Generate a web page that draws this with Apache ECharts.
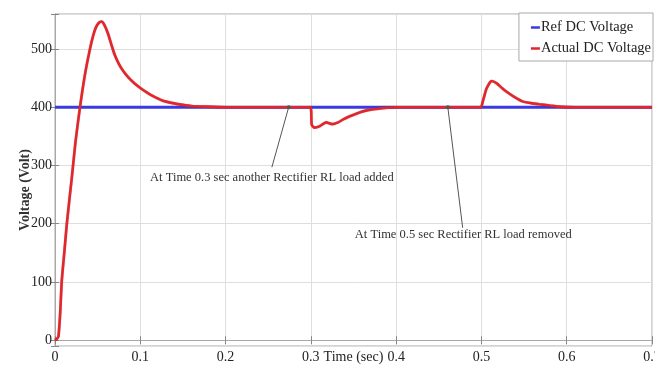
<!DOCTYPE html>
<html>
<head>
<meta charset="utf-8">
<script src="https://cdn.jsdelivr.net/npm/echarts@6/dist/echarts.min.js"></script>
<style>
  html, body { margin: 0; padding: 0; background: #fff; }
  #chart { width: 655px; height: 365px; }
</style>
</head>
<body>
<div id="chart"></div>
<script>
// DC link voltage response: reference vs. measured
const refVoltage = [[0, 400], [0.7, 400]];

const actualVoltage = [
  [0, 0], [0.002, 2], [0.004, 6], [0.006, 45], [0.008, 103], [0.011, 152],
  [0.014, 202], [0.0195, 276], [0.024, 340], [0.0293, 400], [0.035, 455],
  [0.041, 500], [0.045, 524], [0.048, 537], [0.0515, 545], [0.0545, 547],
  [0.058, 541], [0.062, 527], [0.066, 508], [0.070, 490], [0.075, 474],
  [0.080, 462], [0.086, 451], [0.093, 441], [0.100, 433], [0.108, 425],
  [0.115, 419], [0.125, 412], [0.138, 407], [0.150, 404], [0.160, 402],
  [0.175, 401], [0.2, 400], [0.25, 400], [0.2995, 400], [0.301, 370],
  [0.304, 365], [0.310, 367], [0.318, 374], [0.325, 371], [0.332, 374],
  [0.338, 379], [0.345, 384], [0.357, 391], [0.367, 395], [0.377, 397],
  [0.39, 399], [0.4, 400], [0.45, 400], [0.499, 400], [0.502, 412],
  [0.506, 432], [0.512, 445], [0.518, 441], [0.524, 433], [0.530, 426],
  [0.538, 418], [0.548, 410], [0.558, 407], [0.568, 405], [0.58, 403],
  [0.59, 401], [0.61, 400], [0.7, 400]
];

// Event annotations: marker point on the trace, leader end, text anchor
const noteText = [
  'At Time 0.3 sec another Rectifier RL load added',
  'At Time 0.5 sec Rectifier RL load removed'
];
const notePoint = [[0.274, 400], [0.4606, 400]];
const noteLeaderEnd = [[0.2543, 297], [0.478, 193]];
const noteAnchor = [[0.2543, 279], [0.4787, 181]];

const xTicks = [0, 0.1, 0.2, 0.3, 0.4, 0.5, 0.6, 0.7];
const yTicks = [0, 100, 200, 300, 400, 500];

const serif = '"Liberation Serif", "DejaVu Serif", serif';
const gridColor = '#dedede';
const frameColor = '#a8a8a8';

const isXTick = v => xTicks.some(t => Math.abs(t - v) < 1e-9);
const isYTick = v => yTicks.some(t => Math.abs(t - v) < 1e-9);

const chart = echarts.init(document.getElementById('chart'), null, { renderer: 'canvas' });

// shared style for the mirrored (top / right) frame axes: inward ticks only
const frameAxis = {
  axisLine: { show: true, lineStyle: { color: frameColor } },
  axisTick: { show: true, inside: true, length: 4, lineStyle: { color: '#888' } },
  axisLabel: { show: false },
  splitLine: { show: false }
};

chart.setOption({
  animation: false,
  backgroundColor: '#fff',
  grid: {
    left: 55, right: 3, top: 14, bottom: 19,
    outerBoundsMode: 'none',
    containLabel: false,
    show: true, borderColor: frameColor, borderWidth: 1, backgroundColor: '#fff'
  },
  legend: {
    orient: 'vertical',
    right: 2, top: 13,
    backgroundColor: '#fff',
    borderColor: frameColor, borderWidth: 1, borderRadius: 0,
    padding: [7, 2, 5, 12],
    itemWidth: 9, itemHeight: 2.5, itemGap: 6,
    icon: 'rect',
    textStyle: { fontFamily: serif, fontSize: 14.5, color: '#222', padding: [0, 0, 0, -4] },
    data: ['Ref DC Voltage', 'Actual DC Voltage']
  },
  xAxis: [
    {
      type: 'value',
      min: 0, max: 0.7, interval: 0.1,
      name: 'Time (sec)',
      nameLocation: 'middle',
      nameGap: 4,
      nameMoveOverlap: false,
      nameTextStyle: { fontFamily: serif, fontSize: 14, color: '#222', verticalAlign: 'top' },
      axisLine: { lineStyle: { color: frameColor } },
      axisTick: { inside: true, length: 4, lineStyle: { color: '#888' } },
      axisLabel: {
        fontFamily: serif, fontSize: 14, color: '#222', margin: 4,
        formatter: v => (isXTick(v) ? String(+v.toFixed(1)) : '')
      },
      splitLine: { show: true, lineStyle: { color: gridColor } }
    },
    Object.assign({ type: 'value', position: 'top', min: 0, max: 0.7, interval: 0.1 }, frameAxis)
  ],
  yAxis: [
    {
      type: 'value',
      min: -10, max: 560,
      axisLine: { show: true, lineStyle: { color: frameColor } },
      axisTick: { show: true, inside: true, length: 4, lineStyle: { color: '#888' } },
      axisLabel: {
        fontFamily: serif, fontSize: 14, color: '#222', margin: 3,
        formatter: v => (isYTick(v) ? String(Math.round(v)) : '')
      },
      splitLine: { show: true, lineStyle: { color: gridColor } }
    },
    Object.assign({ type: 'value', position: 'right', min: -10, max: 560 }, frameAxis)
  ],
  graphic: [{
    type: 'text',
    x: 25, y: 190,
    rotation: Math.PI / 2,
    style: {
      text: 'Voltage (Volt)',
      fontFamily: serif, fontSize: 14, fontWeight: 'bold', fill: '#333',
      align: 'center', verticalAlign: 'middle'
    }
  }],
  series: [
    {
      name: 'Ref DC Voltage',
      type: 'line',
      data: refVoltage,
      symbol: 'none',
      itemStyle: { color: '#3a3ae0' },
      lineStyle: { color: '#3a3ae0', width: 3 },
      z: 2
    },
    {
      name: 'Actual DC Voltage',
      type: 'line',
      data: actualVoltage,
      symbol: 'none',
      smooth: 0.2,
      itemStyle: { color: '#e3262b' },
      lineStyle: { color: '#e3262b', width: 2.6, shadowColor: 'rgba(90,0,0,0.35)', shadowBlur: 1 },
      z: 3,
      markLine: {
        silent: true,
        symbol: ['circle', 'none'],
        symbolSize: 4,
        label: { show: false },
        lineStyle: { color: '#555', width: 1, type: 'solid' },
        itemStyle: { color: '#111' },
        data: notePoint.map((p, i) => [{ coord: p }, { coord: noteLeaderEnd[i] }])
      },
      markPoint: {
        silent: true,
        symbol: 'circle',
        symbolSize: 0,
        data: noteAnchor.map((c, i) => ({
          coord: c,
          label: {
            show: true,
            position: 'inside',
            formatter: noteText[i],
            fontFamily: serif, fontSize: 12.5, color: '#333'
          }
        }))
      }
    }
  ]
});
</script>
</body>
</html>
